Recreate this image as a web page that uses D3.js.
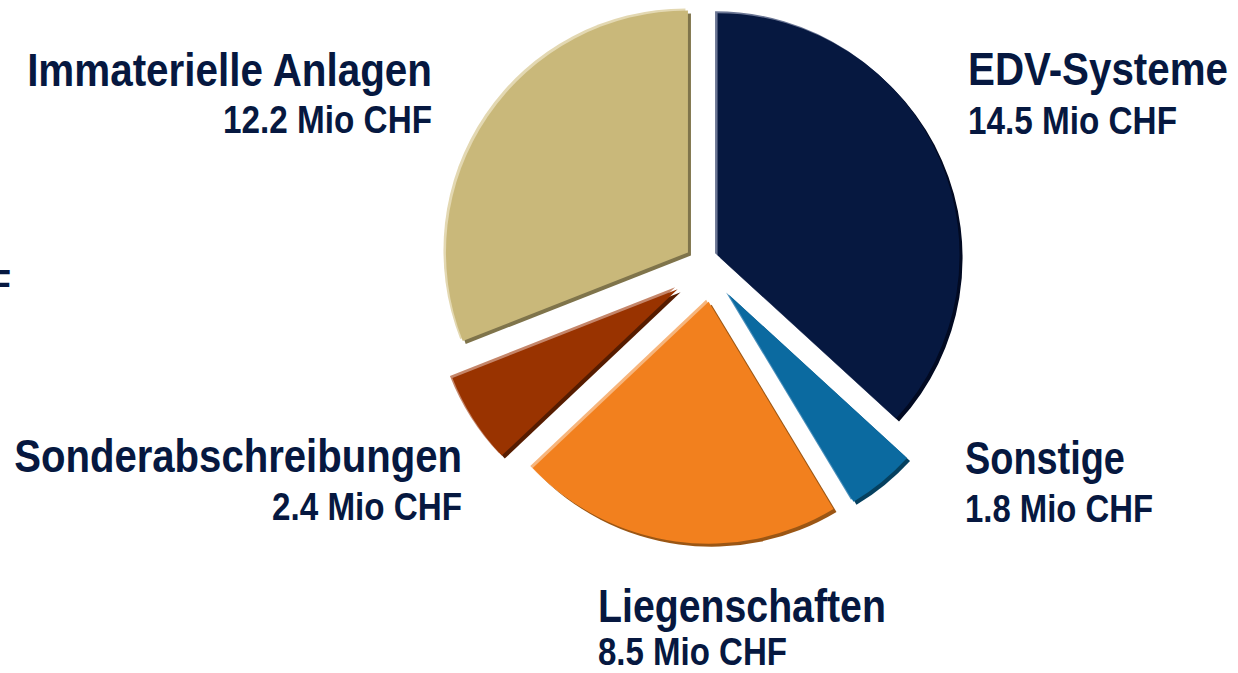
<!DOCTYPE html>
<html>
<head>
<meta charset="utf-8">
<script src="https://cdn.jsdelivr.net/npm/d3@7"></script>
<style>
  body { margin: 0; background: #ffffff; }
  .label { font-family: "Liberation Sans Narrow", "Arial Narrow", "Liberation Sans", Arial, sans-serif; font-weight: bold; fill: #061840; }
</style>
</head>
<body>
<div id="chart"></div>
<script>
// Values as printed on the slide (Mio CHF)
const categories = ["EDV-Systeme", "Sonstige", "Liegenschaften", "Sonderabschreibungen", "Immaterielle Anlagen"];
const values = [14.5, 1.8, 8.5, 2.4, 12.2];
const unit = "Mio CHF";

// Slice colours: main fill, light bevel, dark bevel
const fills  = ["#061840", "#0b6aa0", "#f2801e", "#993300", "#c9b87a"];
const lights = ["#6b7694", "#4a8fbb", "#f7b57c", "#c5866a", "#e3d8b2"];
const darks  = ["#020a22", "#05405f", "#9b5614", "#561c00", "#7f744b"];

// How far each slice is pulled out of the pie, plus a small hand nudge
const explode = [17, 42, 40, 36, 17];
const nudge = [[0, 0], [0, 0], [12, 0], [6, 8], [0, 0]];

// Label placement (x, baseline of title, baseline of value, anchor, text widths)
const labelPos = [
  { x: 968, y1: 85, y2: 134, anchor: "start", w1: 260, w2: 209 },
  { x: 965, y1: 474, y2: 522, anchor: "start", w1: 160, w2: 188 },
  { x: 598, y1: 622, y2: 665, anchor: "start", w1: 288, w2: 189 },
  { x: 462, y1: 472, y2: 520, anchor: "end", w1: 448, w2: 190 },
  { x: 432, y1: 86, y2: 133, anchor: "end", w1: 405, w2: 209 }
];

const width = 1238;
const height = 673;
const cx = 702;
const cy = 262;
const radius = 242;

const data = categories.map((c, i) => ({ name: c, value: values[i], i: i }));

const svg = d3.select("#chart")
  .append("svg")
  .attr("width", width)
  .attr("height", height);

const pie = d3.pie()
  .sort(null)
  .value(d => d.value);

const arc = d3.arc()
  .innerRadius(0)
  .outerRadius(radius);

const arcs = pie(data);

// One group per slice, moved out along its middle angle
const slices = svg.selectAll("g.slice")
  .data(arcs)
  .join("g")
  .attr("class", "slice")
  .attr("transform", d => {
    const mid = (d.startAngle + d.endAngle) / 2;
    const dist = explode[d.data.i];
    const [nx, ny] = nudge[d.data.i];
    return `translate(${cx + dist * Math.sin(mid) + nx},${cy - dist * Math.cos(mid) + ny})`;
  });

// dark shadow edge (bottom right)
slices.append("path")
  .attr("d", arc)
  .attr("transform", "translate(3,3)")
  .attr("fill", d => darks[d.data.i]);

// light highlight edge (top left)
slices.append("path")
  .attr("d", arc)
  .attr("transform", "translate(-2.5,-2)")
  .attr("fill", d => lights[d.data.i]);

// main face
slices.append("path")
  .attr("d", arc)
  .attr("fill", d => fills[d.data.i]);

// Put a text at (x, y) and squeeze it sideways to the wanted width
function addLabel(str, x, y, anchor, size, w) {
  const t = svg.append("text")
    .attr("class", "label")
    .attr("text-anchor", anchor)
    .attr("font-size", size)
    .text(str);
  const natural = t.node().getComputedTextLength();
  const k = w / natural;
  t.attr("transform", `translate(${x},${y}) scale(${k},1)`);
  return t;
}

data.forEach(d => {
  const p = labelPos[d.i];
  addLabel(d.name, p.x, p.y1, p.anchor, 46, p.w1);
  addLabel(`${d.value.toFixed(1)} ${unit}`, p.x, p.y2, p.anchor, 39, p.w2);
});

// Leftover text cut off at the left edge of the slide
addLabel("Mio CHF", 11, 297, "end", 39, 160);
</script>
</body>
</html>
